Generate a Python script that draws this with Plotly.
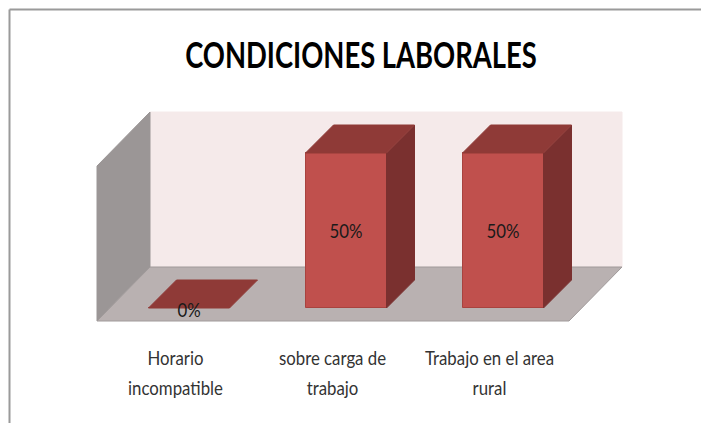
import plotly.graph_objects as go

title = "CONDICIONES LABORALES"
categories = ["Horario incompatible", "sobre carga de trabajo", "Trabajo en el area rural"]
label_line1 = ["Horario", "sobre carga de", "Trabajo en el area"]
label_line2 = ["incompatible", "trabajo", "rural"]
values = [0.0, 0.5, 0.5]
value_text = ["0%", "50%", "50%"]

W, H = 701, 423
PX_X = 157.0      # pixels per category
PX_Y = 310.0      # pixels per unit of value
X0_PX, Y0_PX = 189.0, 308.0
BAR_W = 81 / PX_X
DX, DY = 28 / PX_X, 28 / PX_Y      # bar depth in axis units
VMAX = 0.5
FX0, FX1 = (97 - X0_PX) / PX_X, (569 - X0_PX) / PX_X   # front floor edge
FY = (308 - 321) / PX_Y                                # front floor level
WDX, WDY = 53 / PX_X, 54 / PX_Y                        # floor depth

FRONT, TOP, SIDE, EDGE = "#c0504d", "#8f3a37", "#7a302f", "#a8433f"
BACK, LEFT, FLOOR, WALL_EDGE = "#f5eaea", "#9b9696", "#b9b1b1", "#a09a9a"
FONT = "Lato"


def poly(xs, ys, color, line=None):
    return dict(type="path", layer="below", xref="x", yref="y",
                path="M" + " L".join(f"{a},{b}" for a, b in zip(xs, ys)) + " Z",
                fillcolor=color, line=dict(color=line or color, width=1))


def face(xs, ys, color):
    return go.Scatter(x=xs + xs[:1], y=ys + ys[:1], mode="lines", fill="toself", fillcolor=color,
                      line=dict(color=color, width=1), hoverinfo="skip", showlegend=False)


fig = go.Figure()
fig.add_trace(go.Bar(x=list(range(3)), y=values, width=BAR_W, marker=dict(color=FRONT, line=dict(color=EDGE, width=1)),
                     hovertext=categories, showlegend=False))
for i, v in enumerate(values):
    l, r = i - BAR_W / 2, i + BAR_W / 2
    if v > 0:
        fig.add_trace(face([r, r + DX, r + DX, r], [0, DY, v + DY, v], SIDE))
    fig.add_trace(face([l, r, r + DX, l + DX], [v, v, v + DY, v + DY], TOP))

# data labels: centred in tall bars, just under the base of an empty bar
fig.add_trace(go.Scatter(x=list(range(3)), y=[v / 2 - 2 / PX_Y if v > 0 else -4 / PX_Y for v in values],
                         text=value_text, mode="text", textposition="middle center",
                         textfont=dict(family=FONT, size=20, color="#1a1a1a"),
                         hoverinfo="skip", showlegend=False))
# category labels, two lines each with the reference's wide line spacing
LABEL_X = [i - 13.5 / PX_X for i in range(3)]
for lines, py in ((label_line1, 360), (label_line2, 390)):
    fig.add_trace(go.Scatter(x=LABEL_X, y=[(Y0_PX - py) / PX_Y] * 3, text=lines, mode="text",
                             textposition="middle center",
                             textfont=dict(family=FONT, size=20, color="#333333"),
                             hoverinfo="skip", showlegend=False))

shapes = [
    poly([FX0 + WDX, FX1 + WDX, FX1 + WDX, FX0 + WDX], [FY + WDY] * 2 + [FY + WDY + VMAX] * 2, BACK),
    poly([FX0, FX0 + WDX, FX0 + WDX, FX0], [FY, FY + WDY, FY + WDY + VMAX, FY + VMAX], LEFT),
    poly([FX0, FX1, FX1 + WDX, FX0 + WDX], [FY, FY, FY + WDY, FY + WDY], FLOOR, WALL_EDGE),
    dict(type="line", xref="paper", yref="paper", x0=9.5 / W, x1=1, y0=1 - 9.5 / H, y1=1 - 9.5 / H,
         line=dict(color="#9a9a9a", width=2)),
    dict(type="line", xref="paper", yref="paper", x0=9.5 / W, x1=9.5 / W, y0=0, y1=1 - 9.5 / H,
         line=dict(color="#9a9a9a", width=2)),
]

fig.update_layout(
    width=W, height=H, margin=dict(l=0, r=0, t=0, b=0),
    paper_bgcolor="white", plot_bgcolor="white", showlegend=False, shapes=shapes, bargap=0,
    title=dict(text=title, x=361 / W, xanchor="center", y=1 - 55 / H, yanchor="middle",
               font=dict(family=FONT, size=37, color="#000000", weight="bold")),
    xaxis=dict(range=[-X0_PX / PX_X, (W - X0_PX) / PX_X], visible=False, fixedrange=True),
    yaxis=dict(range=[(Y0_PX - H) / PX_Y, Y0_PX / PX_Y], visible=False, fixedrange=True),
)
# the reference's lettering is condensed: narrow the real SVG text horizontally
condense = """
document.body.style.margin='0';document.body.style.overflow='hidden';
function narrow(el, k){el.setAttribute('textLength', el.getComputedTextLength()*k);
  el.setAttribute('lengthAdjust','spacingAndGlyphs');}
var gd=document.querySelector('.plotly-graph-div');
gd.querySelectorAll('.gtitle').forEach(function(t){narrow(t,0.74);});
gd.querySelectorAll('.textpoint text').forEach(function(t){narrow(t,0.84);});
"""
fig.write_html("out.html", config={"displayModeBar": False}, post_script=condense)
